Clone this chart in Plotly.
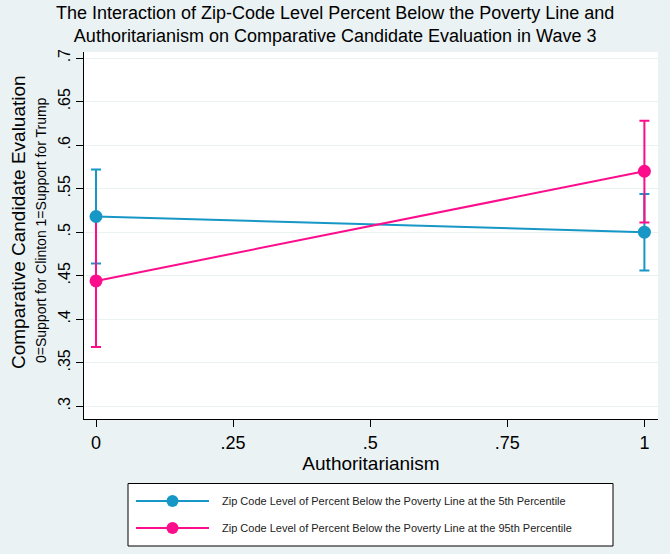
import plotly.graph_objects as go

# Predicted comparative evaluation (margins) with 95% CIs
authoritarianism = [0, 1]
low_pov_mean = [0.518, 0.500]
low_pov_lo = [0.464, 0.456]
low_pov_hi = [0.572, 0.544]
high_pov_mean = [0.444, 0.570]
high_pov_lo = [0.368, 0.511]
high_pov_hi = [0.519, 0.628]

x_ticks = [0, 0.25, 0.5, 0.75, 1]
x_tick_text = ["0", ".25", ".5", ".75", "1"]
y_ticks = [0.3, 0.35, 0.4, 0.45, 0.5, 0.55, 0.6, 0.65, 0.7]
y_tick_text = [".3", ".35", ".4", ".45", ".5", ".55", ".6", ".65", ".7"]

series_names = [
    "Zip Code Level of Percent Below the Poverty Line at the 5th Percentile",
    "Zip Code Level of Percent Below the Poverty Line at the 95th Percentile",
]

BLUE = "#1797c6"
PINK = "#fc0d8b"
BG = "#eaf2f3"
FONT = "Liberation Sans, Arial, sans-serif"

W, H = 670, 554
L, R, T, B = 84, 12, 52, 135


def px_x(p):
    return (p - L) / (W - L - R)


def px_y(p):
    return (H - B - p) / (H - T - B)


fig = go.Figure()


def ci_trace(mean, lo, hi, color):
    return go.Scatter(
        x=authoritarianism, y=mean, mode="markers",
        marker=dict(color="rgba(0,0,0,0)", size=1),
        error_y=dict(type="data", symmetric=False,
                     array=[h - m for h, m in zip(hi, mean)],
                     arrayminus=[m - l for m, l in zip(mean, lo)],
                     color=color, thickness=2, width=5),
        showlegend=False, hoverinfo="skip",
    )


fig.add_trace(ci_trace(low_pov_mean, low_pov_lo, low_pov_hi, BLUE))
fig.add_trace(ci_trace(high_pov_mean, high_pov_lo, high_pov_hi, PINK))

for mean, color, name in [(low_pov_mean, BLUE, series_names[0]),
                          (high_pov_mean, PINK, series_names[1])]:
    fig.add_trace(go.Scatter(
        x=authoritarianism, y=mean, mode="lines+markers", name=name,
        line=dict(color=color, width=2),
        marker=dict(color=color, size=13),
        showlegend=False,
    ))

fig.update_xaxes(
    range=[-0.0219, 1.0248], tickvals=x_ticks, ticktext=x_tick_text,
    showgrid=False, zeroline=False, showline=True, linecolor="#000000", linewidth=1,
    ticks="outside", ticklen=7, tickcolor="#000000", tickwidth=1,
    tickfont=dict(family=FONT, size=18, color="#000000"),
    title=dict(text="Authoritarianism", font=dict(family=FONT, size=19, color="#000000"), standoff=2),
)
fig.update_yaxes(
    range=[0.2854, 0.707], tickvals=y_ticks, ticktext=y_tick_text, tickangle=-90,
    showgrid=True, gridcolor=BG, gridwidth=1, zeroline=False,
    showline=True, linecolor="#000000", linewidth=1,
    ticks="outside", ticklen=7, tickcolor="#000000", tickwidth=1,
    tickfont=dict(family=FONT, size=16, color="#000000"),
)

annotations = [
    dict(text="The Interaction of Zip-Code Level Percent Below the Poverty Line and<br>"
              "Authoritarianism on Comparative Candidate Evaluation in Wave 3",
         x=px_x(335), y=px_y(25), xref="paper", yref="paper",
         xanchor="center", yanchor="middle", showarrow=False,
         font=dict(family=FONT, size=18, color="#000000")),
    dict(text="Comparative Candidate Evaluation", textangle=-90,
         x=px_x(19), y=px_y(222), xref="paper", yref="paper",
         xanchor="center", yanchor="middle", showarrow=False,
         font=dict(family=FONT, size=19, color="#000000")),
    dict(text="0=Support for Clinton 1=Support for Trump", textangle=-90,
         x=px_x(41), y=px_y(230), xref="paper", yref="paper",
         xanchor="center", yanchor="middle", showarrow=False,
         font=dict(family=FONT, size=14, color="#000000")),
]

shapes = [
    dict(type="rect", xref="paper", yref="paper",
         x0=px_x(128), x1=px_x(613), y0=px_y(546), y1=px_y(483.5),
         line=dict(color="#000000", width=1), fillcolor="#ffffff", layer="above"),
]

for row_y, color, name in [(501, BLUE, series_names[0]), (528, PINK, series_names[1])]:
    shapes.append(dict(type="line", xref="paper", yref="paper",
                       x0=px_x(136), x1=px_x(209), y0=px_y(row_y), y1=px_y(row_y),
                       line=dict(color=color, width=2), layer="above"))
    shapes.append(dict(type="circle", xref="paper", yref="paper",
                       x0=px_x(166.5), x1=px_x(178.5), y0=px_y(row_y + 6), y1=px_y(row_y - 6),
                       line=dict(color=color, width=0), fillcolor=color, layer="above"))
    annotations.append(dict(text=name, x=px_x(220), y=px_y(row_y),
                            xref="paper", yref="paper", xanchor="left", yanchor="middle",
                            showarrow=False,
                            font=dict(family=FONT, size=11, color="#222222")))

fig.update_layout(
    width=W, height=H,
    margin=dict(l=L, r=R, t=T, b=B),
    paper_bgcolor=BG, plot_bgcolor="#ffffff",
    annotations=annotations, shapes=shapes,
    showlegend=False,
)

fig.write_html("out.html")
